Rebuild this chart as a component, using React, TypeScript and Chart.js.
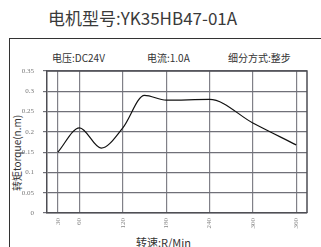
import React, { useEffect, useRef } from "react";
import { Chart, registerables } from "chart.js";

Chart.register(...registerables);

const titleText = "电机型号:YK35HB47-01A";
const specLabels = ["电压:DC24V", "电流:1.0A", "细分方式:整步"];
const yAxisTitle = "转矩torque(n.m)";
const xAxisTitle = "转速:R/Min";

const speeds = [30, 60, 90, 120, 150, 180, 240, 300, 360];
const torques = [0.15, 0.21, 0.16, 0.21, 0.29, 0.278, 0.28, 0.222, 0.168];
const xTickValues = [30, 60, 120, 180, 240, 300, 360];

const frameBorder = {
  id: "frameBorder",
  afterDraw(chart: any) {
    const { ctx, chartArea } = chart;
    ctx.save();
    ctx.strokeStyle = "rgb(78,78,84)";
    ctx.lineWidth = 1.5;
    ctx.beginPath();
    ctx.moveTo(chartArea.left, chartArea.top);
    ctx.lineTo(chartArea.right, chartArea.top);
    ctx.lineTo(chartArea.right, chartArea.bottom);
    ctx.stroke();
    ctx.restore();
  },
};

export default function App() {
  const ref = useRef<HTMLCanvasElement | null>(null);

  useEffect(() => {
    document.body.style.margin = "0";
    if (!ref.current) return;
    const chart = new Chart(ref.current, {
      type: "line",
      data: {
        datasets: [
          {
            data: speeds.map((s, i) => ({ x: s, y: torques[i] })),
            borderColor: "#111111",
            borderWidth: 1.2,
            pointRadius: 0,
            tension: 0.4,
            cubicInterpolationMode: "monotone",
            fill: false,
          },
        ],
      },
      options: {
        animation: false,
        responsive: false,
        layout: { padding: { left: 0, top: 71, right: 14, bottom: 0 } },
        plugins: { legend: { display: false }, tooltip: { enabled: false } },
        scales: {
          x: {
            type: "linear",
            min: 15,
            max: 375,
            afterBuildTicks: (scale: any) => {
              scale.ticks = xTickValues.map((v) => ({ value: v }));
            },
            afterFit: (scale: any) => {
              scale.height = 34;
            },
            grid: { color: "rgb(128,128,136)", lineWidth: 1.2, drawTicks: false },
            border: { color: "rgb(78,78,84)", width: 1.5 },
            ticks: {
              autoSkip: false,
              maxRotation: 90,
              minRotation: 90,
              padding: 5,
              color: "#888888",
              font: { family: "Liberation Serif", size: 7 },
            },
          },
          y: {
            type: "linear",
            min: 0,
            max: 0.35,
            afterFit: (scale: any) => {
              scale.width = 47;
            },
            grid: { color: "rgb(112,112,120)", lineWidth: 1.2, tickLength: 4 },
            border: { color: "rgb(78,78,84)", width: 1.5 },
            ticks: {
              stepSize: 0.05,
              padding: 9,
              color: "#777777",
              font: { family: "Liberation Serif", size: 7 },
              callback: (v: any) => String(Math.round(Number(v) * 100) / 100),
            },
          },
        },
      },
      plugins: [frameBorder],
    });
    return () => chart.destroy();
  }, []);

  const textStyle: React.CSSProperties = {
    position: "absolute",
    fontFamily: "'Noto Sans CJK SC', 'Noto Sans', sans-serif",
    color: "#333",
    whiteSpace: "nowrap",
    lineHeight: 1,
  };

  return (
    <div style={{ position: "relative", width: 321, height: 247, overflow: "hidden", background: "#fff" }}>
      <div
        style={{
          position: "absolute",
          left: 9,
          top: 38,
          width: 400,
          height: 400,
          borderLeft: "1.5px solid #333",
          borderTop: "1.5px solid #333",
        }}
      />
      <div style={{ ...textStyle, left: 48, top: 9, fontSize: 17, color: "#3a3a3a" }}>{titleText}</div>
      <div style={{ ...textStyle, left: 52, top: 53, fontSize: 10 }}>{specLabels[0]}</div>
      <div style={{ ...textStyle, left: 147, top: 53, fontSize: 10 }}>{specLabels[1]}</div>
      <div style={{ ...textStyle, left: 228, top: 53, fontSize: 10 }}>{specLabels[2]}</div>
      <div
        style={{
          ...textStyle,
          left: 17,
          top: 153,
          fontSize: 10,
          transform: "translate(-50%, -50%) rotate(-90deg)",
        }}
      >
        {yAxisTitle}
      </div>
      <div style={{ ...textStyle, left: 136, top: 237, fontSize: 11 }}>{xAxisTitle}</div>
      <canvas ref={ref} width={321} height={247} style={{ position: "absolute", left: 0, top: 0, width: 321, height: 247 }} />
    </div>
  );
}
